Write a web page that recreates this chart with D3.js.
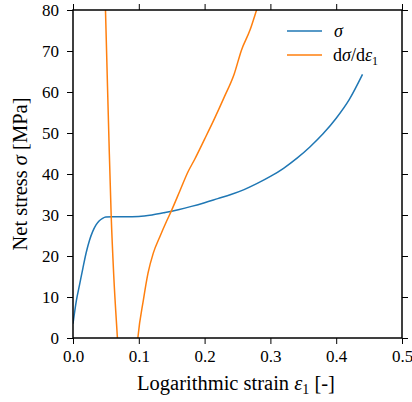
<!DOCTYPE html>
<html>
<head>
<meta charset="utf-8">
<script src="https://cdn.jsdelivr.net/npm/d3@7"></script>
<style>
  body { margin: 0; background: #fff; }
  svg { display: block; font-family: "Liberation Serif", "DejaVu Serif", serif; }
</style>
</head>
<body>
<div id="chart"></div>
<script>
// stress curve (strain, MPa)
var sigmaStrain = [0, 0.005, 0.01, 0.015, 0.02, 0.025, 0.03, 0.035, 0.04, 0.045, 0.05, 0.06, 0.08, 0.1, 0.12, 0.14, 0.16, 0.18, 0.2, 0.22, 0.24, 0.26, 0.28, 0.3, 0.32, 0.34, 0.36, 0.38, 0.4, 0.42, 0.44];
var sigmaValues = [3.5, 9, 13, 17, 20.8, 23.8, 26, 27.6, 28.6, 29.2, 29.5, 29.6, 29.6, 29.65, 30.0, 30.6, 31.3, 32.1, 33.0, 34.0, 35.0, 36.2, 37.7, 39.4, 41.4, 43.8, 46.6, 49.8, 53.6, 58.2, 64.3];

// derivative curve (strain, MPa) - leaves the plot at top and bottom
var dsigStrain = [0.0492, 0.052, 0.0547, 0.058, 0.062, 0.0675, 0.069, 0.0975, 0.0988, 0.107, 0.114, 0.122, 0.132, 0.142, 0.15, 0.163, 0.175, 0.185, 0.2, 0.215, 0.23, 0.245, 0.256, 0.269, 0.279, 0.281];
var dsigValues = [81, 64, 48, 30, 15, 0, -4, -2, 0.3, 9.3, 15.8, 20.7, 24.7, 28.4, 31.2, 36.1, 40.6, 43.6, 48.5, 53.5, 58.8, 64.4, 70.2, 75.1, 80, 81];

var xTicks = [0, 0.1, 0.2, 0.3, 0.4, 0.5];
var yTicks = [0, 10, 20, 30, 40, 50, 60, 70, 80];

var width = 412, height = 402;
var margin = { left: 73, right: 10, top: 10, bottom: 64 };

var svg = d3.select('#chart').append('svg')
  .attr('width', width)
  .attr('height', height);

var x = d3.scaleLinear().domain([0, 0.5]).range([margin.left, width - margin.right]);
var y = d3.scaleLinear().domain([0, 80]).range([height - margin.bottom, margin.top]);

svg.append('clipPath').attr('id', 'plotClip')
  .append('rect')
  .attr('x', x(0)).attr('y', y(80))
  .attr('width', x(0.5) - x(0)).attr('height', y(0) - y(80));

var line = d3.line()
  .x(function(d) { return x(d[0]); })
  .y(function(d) { return y(d[1]); })
  .curve(d3.curveMonotoneX);

var plot = svg.append('g').attr('clip-path', 'url(#plotClip)');

plot.append('path')
  .datum(d3.zip(sigmaStrain, sigmaValues))
  .attr('fill', 'none')
  .attr('stroke', '#1f77b4')
  .attr('stroke-width', 1.5)
  .attr('d', line);

plot.append('path')
  .datum(d3.zip(dsigStrain, dsigValues))
  .attr('fill', 'none')
  .attr('stroke', '#ff7f0e')
  .attr('stroke-width', 1.5)
  .attr('d', line);

// axes, ticks outward on all four sides
function styleAxis(g) {
  g.select('.domain').remove();
  g.selectAll('.tick line').attr('stroke', '#000').attr('stroke-width', 1);
  g.selectAll('.tick text').attr('fill', '#000').style('font-size', '17px')
    .style('font-family', '"Liberation Serif", "DejaVu Serif", serif');
}

svg.append('g')
  .attr('transform', 'translate(0,' + y(0) + ')')
  .call(d3.axisBottom(x).tickValues(xTicks).tickFormat(d3.format('.1f')).tickSizeOuter(0).tickSize(6).tickPadding(6))
  .call(styleAxis);

svg.append('g')
  .attr('transform', 'translate(0,' + y(80) + ')')
  .call(d3.axisTop(x).tickValues(xTicks).tickFormat('').tickSizeOuter(0).tickSize(6))
  .call(styleAxis);

svg.append('g')
  .attr('transform', 'translate(' + x(0) + ',0)')
  .call(d3.axisLeft(y).tickValues(yTicks).tickFormat(d3.format('d')).tickSizeOuter(0).tickSize(6).tickPadding(8))
  .call(styleAxis);

svg.append('g')
  .attr('transform', 'translate(' + x(0.5) + ',0)')
  .call(d3.axisRight(y).tickValues(yTicks).tickFormat('').tickSizeOuter(0).tickSize(6))
  .call(styleAxis);

svg.append('rect')
  .attr('x', x(0)).attr('y', y(80))
  .attr('width', x(0.5) - x(0)).attr('height', y(0) - y(80))
  .attr('fill', 'none')
  .attr('stroke', '#000')
  .attr('stroke-width', 1.5);

// axis labels
var xLabel = svg.append('text')
  .attr('x', 236)
  .attr('y', 390)
  .attr('text-anchor', 'middle')
  .style('font-size', '20.5px');
xLabel.append('tspan').text('Logarithmic strain ');
xLabel.append('tspan').attr('font-style', 'italic').text('ε');
xLabel.append('tspan').attr('font-size', '14px').attr('dy', 4).text('1');
xLabel.append('tspan').attr('dy', -4).text(' [-]');

var yLabel = svg.append('text')
  .attr('transform', 'translate(27,' + ((y(0) + y(80)) / 2) + ') rotate(-90)')
  .attr('text-anchor', 'middle')
  .style('font-size', '20.5px');
yLabel.append('tspan').text('Net stress ');
yLabel.append('tspan').attr('font-style', 'italic').text('σ');
yLabel.append('tspan').text(' [MPa]');

// legend
var legend = svg.append('g');
var legendItems = [
  { color: '#1f77b4', y: 31 },
  { color: '#ff7f0e', y: 55 }
];
legend.selectAll('line')
  .data(legendItems)
  .enter().append('line')
  .attr('x1', 287).attr('x2', 322)
  .attr('y1', function(d) { return d.y; })
  .attr('y2', function(d) { return d.y; })
  .attr('stroke', function(d) { return d.color; })
  .attr('stroke-width', 1.5);

legend.append('text')
  .attr('x', 334).attr('y', 37)
  .attr('font-style', 'italic')
  .style('font-size', '18px')
  .text('σ');

var l2 = legend.append('text')
  .attr('x', 333).attr('y', 61)
  .style('font-size', '18px');
l2.append('tspan').text('d');
l2.append('tspan').attr('font-style', 'italic').text('σ');
l2.append('tspan').text('/d');
l2.append('tspan').attr('font-style', 'italic').text('ε');
l2.append('tspan').attr('font-size', '12px').attr('dy', 4).text('1');
</script>
</body>
</html>
